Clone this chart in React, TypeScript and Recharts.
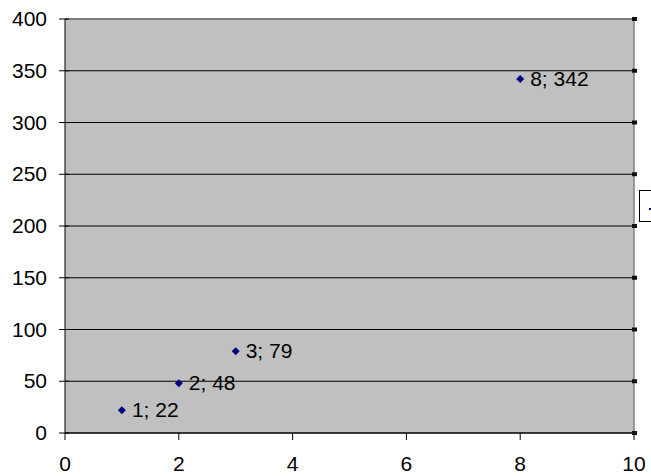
import React from 'react';
import { ScatterChart, Scatter, XAxis, YAxis, CartesianGrid, LabelList, ReferenceLine } from 'recharts';

const xValues = [1, 2, 3, 8];
const yValues = [22, 48, 79, 342];
const xTicks = [0, 2, 4, 6, 8, 10];
const yTicks = [0, 50, 100, 150, 200, 250, 300, 350, 400];

const data = xValues.map((x, i) => ({ x, y: yValues[i] }));

const FONT = '"Liberation Sans", Arial, sans-serif';

const YTick = (props: any) => {
  const { x, y, payload } = props;
  return (
    <g>
      <line x1={x - 6} x2={x + 4} y1={y} y2={y} stroke="#000" strokeWidth={1} />
      <rect x={x + 567} y={y - 2} width={5} height={4} fill="#111" />
      <text x={x - 18} y={y + 7} textAnchor="end" fontSize={21} fontFamily={FONT} fill="#000">
        {payload.value}
      </text>
    </g>
  );
};

const XTick = (props: any) => {
  const { x, y, payload } = props;
  return (
    <g>
      <line x1={x} x2={x} y1={y} y2={y + 7} stroke="#000" strokeWidth={1} />
      <text x={x} y={y + 38} textAnchor="middle" fontSize={21} fontFamily={FONT} fill="#000">
        {payload.value}
      </text>
    </g>
  );
};

const Diamond = (props: any) => {
  const { cx, cy } = props;
  return <polygon points={`${cx},${cy - 4} ${cx + 4},${cy} ${cx},${cy + 4} ${cx - 4},${cy}`} fill="#000080" />;
};

const PointLabel = (props: any) => {
  const { x, y, width, height, index } = props;
  const d = data[index];
  const cx = x + (width || 0) / 2;
  const cy = y + (height || 0) / 2;
  return (
    <text x={cx + 10} y={cy + 7} fontSize={21} fontFamily={FONT} fill="#000">
      {`${d.x}; ${d.y}`}
    </text>
  );
};

export default function App() {
  return (
    <div style={{ position: 'absolute', left: 0, top: 0, width: 651, height: 476, overflow: 'hidden', background: '#fff' }}>
      <ScatterChart width={651} height={476} margin={{ top: 19, right: 17, bottom: 0, left: 0 }}>
        <CartesianGrid vertical={false} stroke="#000" strokeWidth={1} fill="#c0c0c0" fillOpacity={1} />
        <ReferenceLine y={400} stroke="#808080" strokeWidth={1.5} />
        <ReferenceLine x={10} stroke="#808080" strokeWidth={1.5} />
        <XAxis
          type="number"
          dataKey="x"
          domain={[0, 10]}
          ticks={xTicks}
          height={43}
          tickSize={0}
          tickMargin={0}
          tickLine={false}
          tick={<XTick />}
          axisLine={{ stroke: '#000', strokeWidth: 1 }}
          interval={0}
        />
        <YAxis
          type="number"
          dataKey="y"
          domain={[0, 400]}
          ticks={yTicks}
          width={65}
          tickSize={0}
          tickMargin={0}
          tickLine={false}
          tick={<YTick />}
          axisLine={{ stroke: '#000', strokeWidth: 1 }}
          interval={0}
        />
        <Scatter data={data} shape={<Diamond />} isAnimationActive={false}>
          <LabelList dataKey="y" content={<PointLabel />} />
        </Scatter>
      </ScatterChart>
      <div
        style={{
          position: 'absolute',
          left: 639,
          top: 190,
          width: 40,
          height: 30,
          border: '1px solid #000',
          background: '#fff',
        }}
      >
        <div style={{ position: 'absolute', left: 9, top: 17, width: 4, height: 2, background: '#000080' }} />
      </div>
    </div>
  );
}
